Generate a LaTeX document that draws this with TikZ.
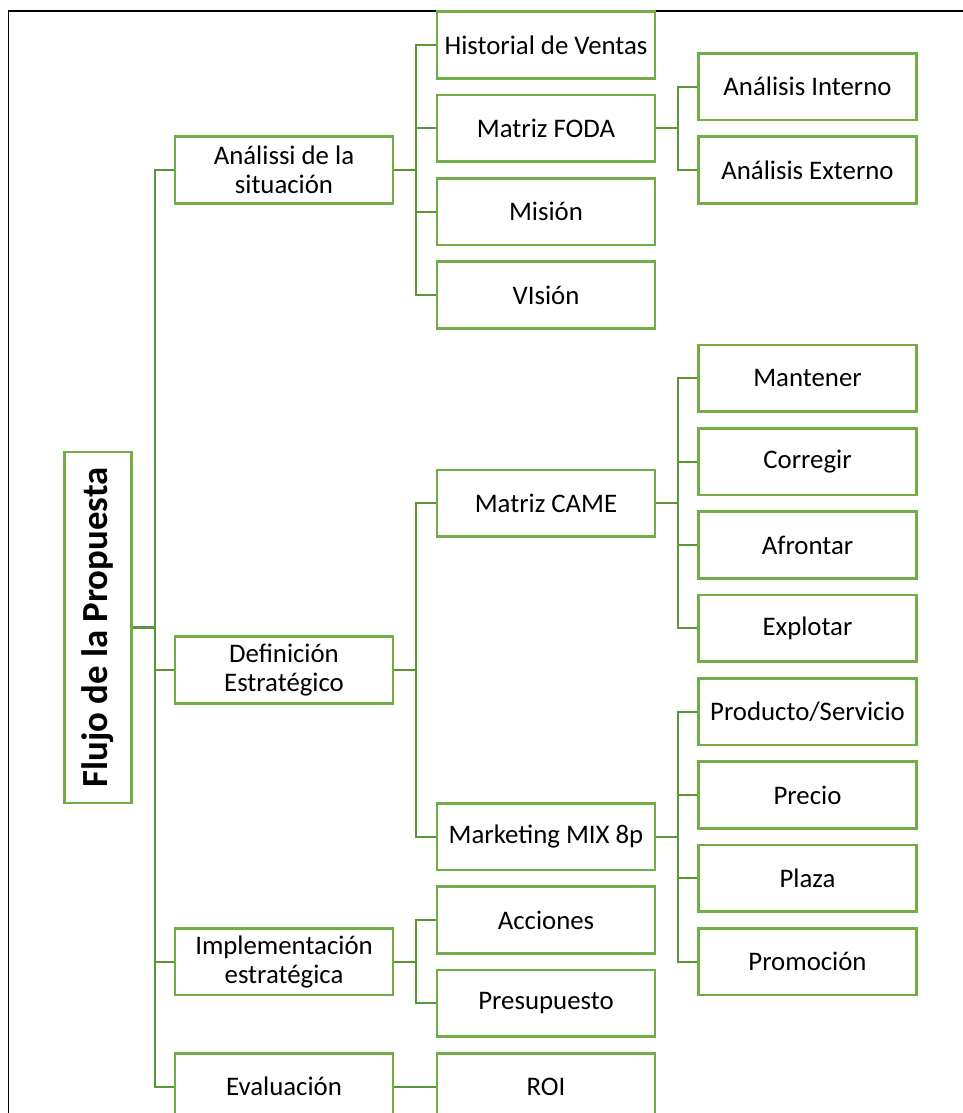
\documentclass[tikz,border=0pt]{standalone}
\usepackage{fontspec}
\setmainfont{Carlito}
\definecolor{boxgreen}{HTML}{70AD47}
\definecolor{linkgreen}{HTML}{5C9438}
\begin{document}
\begin{tikzpicture}[x=1pt,y=-1pt,
  box/.style={draw=boxgreen, line width=2.8pt, minimum width=218pt,
    minimum height=66.7pt, inner sep=0pt, align=center, text=black,
    font=\fontsize{26.8}{29}\selectfont},
  rootbox/.style={draw=boxgreen, line width=2.8pt, minimum width=67.5pt,
    minimum height=351pt, inner sep=0pt, text=black,
    font=\fontsize{36.8}{40}\selectfont\bfseries},
  link/.style={draw=linkgreen, line width=2.2pt},
  frame/.style={draw=black, line width=1.4pt}]
\useasboundingbox (0,0) rectangle (963,1113);
\clip (0,0) rectangle (963,1113);

% outer frame (runs off the page to the right and bottom)
\draw[frame] (8.5,1200) -- (8.5,11) -- (1000,11);

% row centres: y = 45 + 83.33 k
\def\rowy#1{45+83.333*#1}

% root
\node[rootbox] (root) at (98,627.5) {\rotatebox{90}{Flujo de la Propuesta}};

% level 1
\node[box] (sit) at (284,{\rowy{1.5}}) {Análissi de la\\situación};
\node[box] (def) at (284,{\rowy{7.5}}) {Definición\\Estratégico};
\node[box] (imp) at (284,{\rowy{11}}) {Implementación\\estratégica};
\node[box] (eva) at (284,{\rowy{12.5}}) {Evaluación};

% level 2
\node[box] (hv)   at (546,{\rowy{0}}) {Historial de Ventas};
\node[box] (foda) at (546,{\rowy{1}}) {Matriz FODA};
\node[box] (mis)  at (546,{\rowy{2}}) {Misión};
\node[box] (vis)  at (546,{\rowy{3}}) {VIsión};
\node[box] (came) at (546,{\rowy{5.5}}) {Matriz CAME};
\node[box] (mkt)  at (546,{\rowy{9.5}}) {Marketing MIX 8p};
\node[box] (acc)  at (546,{\rowy{10.5}}) {Acciones};
\node[box] (psp)  at (546,{\rowy{11.5}}) {Presupuesto};
\node[box] (roi)  at (546,{\rowy{12.5}}) {ROI};

% level 3
\node[box] (ai)  at (807.5,{\rowy{0.5}}) {Análisis Interno};
\node[box] (ae)  at (807.5,{\rowy{1.5}}) {Análisis Externo};
\node[box] (man) at (807.5,{\rowy{4}}) {Mantener};
\node[box] (cor) at (807.5,{\rowy{5}}) {Corregir};
\node[box] (afr) at (807.5,{\rowy{6}}) {Afrontar};
\node[box] (exp) at (807.5,{\rowy{7}}) {Explotar};
\node[box] (pro) at (807.5,{\rowy{8}}) {Producto/Servicio};
\node[box] (pre) at (807.5,{\rowy{9}}) {Precio};
\node[box] (pla) at (807.5,{\rowy{10}}) {Plaza};
\node[box] (prm) at (807.5,{\rowy{11}}) {Promoción};

% elbow connectors
\foreach \p/\c in {root/sit, root/def, root/imp, root/eva,
                   sit/hv, sit/foda, sit/mis, sit/vis,
                   foda/ai, foda/ae,
                   def/came, def/mkt,
                   came/man, came/cor, came/afr, came/exp,
                   mkt/pro, mkt/pre, mkt/pla, mkt/prm,
                   imp/acc, imp/psp, eva/roi}
  \draw[link] (\p.east) -- ++(21.5,0) |- (\c.west);
\end{tikzpicture}
\end{document}
